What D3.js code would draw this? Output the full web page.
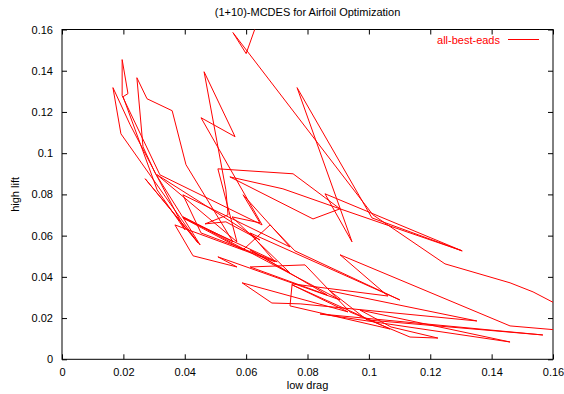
<!DOCTYPE html>
<html>
<head>
<meta charset="utf-8">
<script src="https://cdn.jsdelivr.net/npm/d3@7"></script>
<style>
  body { margin: 0; background: #fff; }
  text { font-family: "Liberation Sans", Arial, sans-serif; }
</style>
</head>
<body>
<div id="chart"></div>
<script>
// run of the optimizer, in the order the points were written
let drag = [0.0652, 0.0600, 0.0557, 0.1013, 0.1248, 0.1460, 0.1535, 0.1642, 0.1655, 0.1460,
  0.0906, 0.1062, 0.0750, 0.0743, 0.1069, 0.0750, 0.0932, 0.0587, 0.0684, 0.0776,
  0.1352, 0.0873, 0.0994, 0.1567, 0.0841, 0.1460, 0.0971, 0.1072, 0.1225, 0.1134,
  0.0938, 0.0792, 0.0613, 0.0864, 0.0613, 0.0743, 0.0554, 0.0645, 0.0590, 0.0743,
  0.0394, 0.0453, 0.0701, 0.0394, 0.0590, 0.0678, 0.0759, 0.1101, 0.0613, 0.0694,
  0.0368, 0.0427, 0.0570, 0.0508, 0.0906, 0.0394, 0.0557, 0.0404, 0.0359, 0.0277,
  0.0244, 0.0264, 0.0303, 0.0450, 0.0271, 0.0443, 0.0192, 0.0166, 0.0222, 0.0401,
  0.0310, 0.0199, 0.0215, 0.0196, 0.0196, 0.0319, 0.0652, 0.0453, 0.0564, 0.0463,
  0.0534, 0.0541, 0.0466, 0.0534, 0.0645, 0.0310, 0.0570, 0.0508, 0.0753, 0.0906,
  0.0818, 0.0547, 0.0720, 0.0906, 0.1304, 0.1010, 0.0766, 0.0945, 0.0857, 0.1304];
let lift = [0.1701, 0.1483, 0.1585, 0.0701, 0.0463, 0.0371, 0.0327, 0.0244, 0.0137, 0.0162,
  0.0507, 0.0307, 0.0366, 0.0259, 0.0147, 0.0361, 0.0230, 0.0371, 0.0273, 0.0269,
  0.0186, 0.0332, 0.0191, 0.0118, 0.0220, 0.0084, 0.0239, 0.0157, 0.0103, 0.0108,
  0.0230, 0.0458, 0.0448, 0.0312, 0.0531, 0.0419, 0.0691, 0.0662, 0.0798, 0.0545,
  0.0798, 0.0613, 0.0473, 0.0686, 0.0531, 0.0652, 0.0526, 0.0288, 0.0613, 0.0473,
  0.0652, 0.0502, 0.0448, 0.0497, 0.0288, 0.0691, 0.0570, 0.0944, 0.1206, 0.1264,
  0.1366, 0.1031, 0.0905, 0.0555, 0.0876, 0.0565, 0.1094, 0.1318, 0.1138, 0.0628,
  0.0822, 0.1274, 0.1289, 0.1454, 0.1279, 0.0895, 0.0652, 0.1172, 0.1080, 0.1395,
  0.0822, 0.0701, 0.0657, 0.0667, 0.0579, 0.0895, 0.0570, 0.0924, 0.0900, 0.0730,
  0.0681, 0.0885, 0.0827, 0.0730, 0.0526, 0.0686, 0.1318, 0.0570, 0.0803, 0.0526];

let xTicks = [0, 0.02, 0.04, 0.06, 0.08, 0.1, 0.12, 0.14, 0.16];
let yTicks = [0, 0.02, 0.04, 0.06, 0.08, 0.1, 0.12, 0.14, 0.16];
let seriesName = "all-best-eads";

let width = 564, height = 394;
let margin = {top: 29.5, right: 11, bottom: 34.7, left: 62};
let w = width - margin.left - margin.right;
let h = height - margin.top - margin.bottom;

let data = drag.map(function(d, i) { return {x: d, y: lift[i]}; });

let xScale = d3.scaleLinear().domain([0, 0.16]).range([0, w]);
let yScale = d3.scaleLinear().domain([0, 0.16]).range([h, 0]);

let svg = d3.select("#chart").append("svg")
    .attr("width", width)
    .attr("height", height);

let g = svg.append("g")
    .attr("transform", "translate(" + margin.left + "," + margin.top + ")");

svg.append("defs").append("clipPath").attr("id", "clip")
  .append("rect").attr("width", w).attr("height", h);

// ticks point inward on all four sides, labels only bottom/left
let fmt = function(d) { return d3.format("")(+d.toFixed(2)); };

g.append("g")
    .attr("transform", "translate(0," + h + ")")
    .call(d3.axisBottom(xScale).tickValues(xTicks).tickSizeInner(-5).tickSizeOuter(0).tickPadding(9).tickFormat(fmt));
g.append("g")
    .call(d3.axisTop(xScale).tickValues(xTicks).tickSizeInner(-5).tickSizeOuter(0).tickFormat(""));
g.append("g")
    .call(d3.axisLeft(yScale).tickValues(yTicks).tickSizeInner(-5).tickSizeOuter(0).tickPadding(9).tickFormat(fmt));
g.append("g")
    .attr("transform", "translate(" + w + ",0)")
    .call(d3.axisRight(yScale).tickValues(yTicks).tickSizeInner(-5).tickSizeOuter(0).tickFormat(""));

g.selectAll(".domain").remove();
g.selectAll(".tick line").attr("stroke", "#000");
g.selectAll(".tick text").attr("font-size", 11).attr("fill", "#000")
    .attr("font-family", "Liberation Sans, Arial, sans-serif");

g.append("rect")
    .attr("width", w).attr("height", h)
    .attr("fill", "none").attr("stroke", "#000").attr("stroke-width", 1);

let line = d3.line()
    .x(function(d) { return xScale(d.x); })
    .y(function(d) { return yScale(d.y); });

g.append("path")
    .datum(data)
    .attr("clip-path", "url(#clip)")
    .attr("fill", "none")
    .attr("stroke", "#ff0000")
    .attr("stroke-width", 1)
    .attr("d", line);

// legend
g.append("text")
    .attr("x", w - 53).attr("y", 14)
    .attr("text-anchor", "end")
    .attr("font-size", 11)
    .attr("fill", "#ff0000")
    .text(seriesName);
g.append("line")
    .attr("x1", w - 45).attr("x2", w - 14)
    .attr("y1", 10).attr("y2", 10)
    .attr("stroke", "#ff0000");

svg.append("text")
    .attr("x", margin.left + w / 2).attr("y", 16)
    .attr("text-anchor", "middle").attr("font-size", 11)
    .text("(1+10)-MCDES for Airfoil Optimization");

svg.append("text")
    .attr("x", margin.left + w / 2).attr("y", 389)
    .attr("text-anchor", "middle").attr("font-size", 11)
    .text("low drag");

svg.append("text")
    .attr("transform", "translate(19," + (margin.top + h / 2) + ") rotate(-90)")
    .attr("text-anchor", "middle").attr("font-size", 11)
    .text("high lift");
</script>
</body>
</html>
